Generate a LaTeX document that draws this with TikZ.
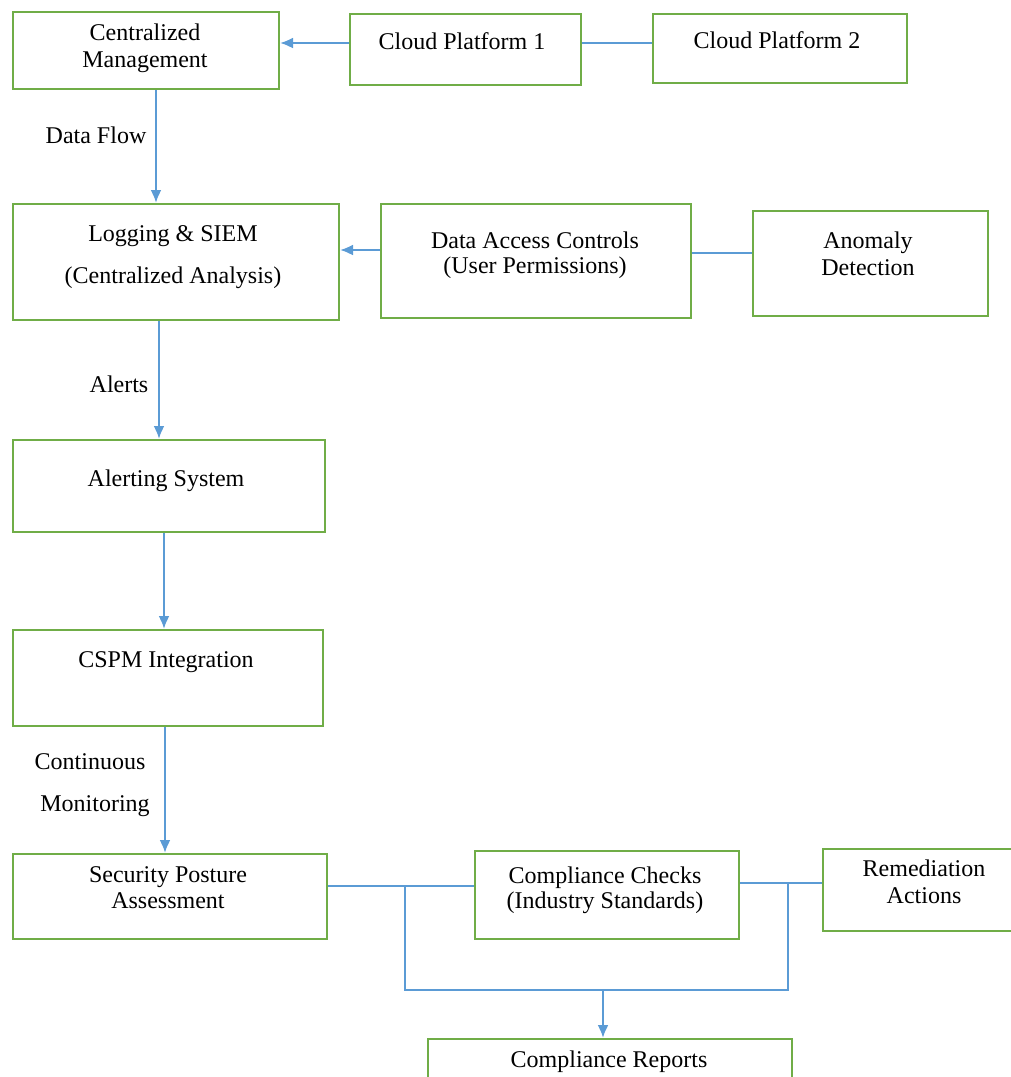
\documentclass[tikz,border=0pt]{standalone}
\usepackage{fontspec}
\setmainfont{Liberation Serif}
\usetikzlibrary{arrows.meta}
\definecolor{boxgreen}{HTML}{70AD47}
\definecolor{lineblue}{HTML}{5B9BD5}
\begin{document}
\begin{tikzpicture}[x=1pt,y=-1pt,
  box/.style={draw=boxgreen, line width=2pt, inner sep=0pt, anchor=north west},
  txt/.style={font=\fontsize{24}{27}\selectfont, anchor=base, inner sep=0pt},
  conn/.style={draw=lineblue, line width=2.2pt},
  arr/.style={conn, -{Latex[length=13pt,width=11pt]}}]
\useasboundingbox (0,0) rectangle (1011,1077);
\clip (0,0) rectangle (1011,1077);
% boxes
\node[box, minimum width=266pt, minimum height=77pt] (cm) at (12,11) {};
\node[box, minimum width=231pt, minimum height=71pt] (cp1) at (349,13) {};
\node[box, minimum width=254pt, minimum height=69pt] (cp2) at (652,13) {};
\node[box, minimum width=326pt, minimum height=116pt] (log) at (12,203) {};
\node[box, minimum width=310pt, minimum height=114pt] (dac) at (380,203) {};
\node[box, minimum width=235pt, minimum height=105pt] (ano) at (752,210) {};
\node[box, minimum width=312pt, minimum height=92pt] (alt) at (12,439) {};
\node[box, minimum width=310pt, minimum height=96pt] (cspm) at (12,629) {};
\node[box, minimum width=314pt, minimum height=85pt] (spa) at (12,853) {};
\node[box, minimum width=264pt, minimum height=88pt] (cc) at (474,850) {};
\node[box, minimum width=220pt, minimum height=82pt] (rem) at (822,848) {};
\node[box, minimum width=364pt, minimum height=60pt] (rep) at (427,1038) {};
% texts
\node[txt] (t1a) at (145,40) {Centralized};
\node[txt] (t1b) at (145,67) {Management};
\node[txt] (t2) at (462,49) {Cloud Platform 1};
\node[txt] (t3) at (777,48) {Cloud Platform 2};
\node[txt] (t4a) at (173,241) {Logging \& SIEM};
\node[txt] (t4b) at (173,283) {(Centralized Analysis)};
\node[txt] (t5a) at (535,248) {Data Access Controls};
\node[txt] (t5b) at (535,273) {(User Permissions)};
\node[txt] (t6a) at (868,248) {Anomaly};
\node[txt] (t6b) at (868,275) {Detection};
\node[txt] (t7) at (166,486) {Alerting System};
\node[txt] (t8) at (166,667) {CSPM Integration};
\node[txt] (t9a) at (168,882) {Security Posture};
\node[txt] (t9b) at (168,908) {Assessment};
\node[txt] (t10a) at (605,883) {Compliance Checks};
\node[txt] (t10b) at (605,908) {(Industry Standards)};
\node[txt] (t11a) at (924,876) {Remediation};
\node[txt] (t11b) at (924,903) {Actions};
\node[txt] (t12) at (609,1067) {Compliance Reports};
% edge labels
\node[txt] (l1) at (96,143) {Data Flow};
\node[txt] (l2) at (119,392) {Alerts};
\node[txt] (l3a) at (90,769) {Continuous};
\node[txt] (l3b) at (95,811) {Monitoring};
% connectors
\draw[arr] (cp1.west |- 0,43) -- (cm.east |- 0,43);
\draw[conn] (cp1.east |- 0,43) -- (cp2.west |- 0,43);
\draw[arr] (cm.south -| 156,0) -- (log.north -| 156,0);
\draw[arr] (dac.west |- 0,250) -- (log.east |- 0,250);
\draw[conn] (dac.east |- 0,253) -- (ano.west |- 0,253);
\draw[arr] (log.south -| 159,0) -- (alt.north -| 159,0);
\draw[arr] (alt.south -| 164,0) -- (cspm.north -| 164,0);
\draw[arr] (cspm.south -| 165,0) -- (spa.north -| 165,0);
\draw[conn] (spa.east |- 0,886) -- (cc.west |- 0,886);
\draw[conn] (cc.east |- 0,883) -- (rem.west |- 0,883);
\coordinate (j1) at (405,886);
\coordinate (b1) at (405,990);
\coordinate (b2) at (788,990);
\coordinate (j2) at (788,883);
\coordinate (bm) at (603,990);
\draw[conn] (j1) -- (b1) -- (b2) -- (j2);
\draw[arr] (bm) -- (rep.north -| bm);
\end{tikzpicture}
\end{document}
